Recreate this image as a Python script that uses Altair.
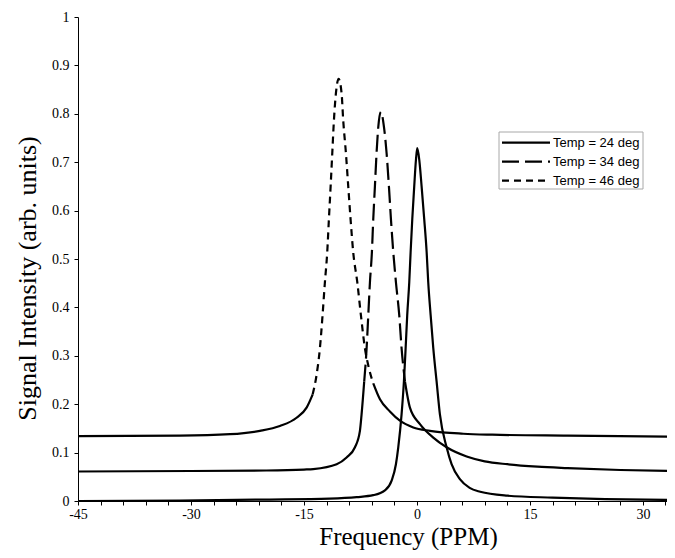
import altair as alt
import pandas as pd

# ---- data ----
series_names = ["Temp = 24 deg", "Temp = 34 deg", "Temp = 46 deg"]

x24 = [-45, -31.5, -20, -11.6, -8, -5.8, -4.25, -3.36, -2.79, -2.48, -2.04, -1.73, -1.50, -1.29,
       -1.02, -0.84, -0.62, -0.36, -0.13, 0.04, 0.31, 0.62, 0.97, 1.29, 1.50, 1.82, 2.17, 2.61,
       3.05, 3.94, 4.6, 5.7, 7.0, 8.4, 12, 18, 25, 34]
v24 = [0.0, 0.001, 0.003, 0.005, 0.008, 0.012, 0.022, 0.042, 0.076, 0.111, 0.179, 0.247, 0.316, 0.384,
       0.452, 0.514, 0.582, 0.650, 0.705, 0.729, 0.705, 0.650, 0.582, 0.514, 0.452, 0.384, 0.316, 0.247,
       0.179, 0.111, 0.076, 0.045, 0.027, 0.019, 0.011, 0.007, 0.004, 0.002]

x34 = [-45, -30, -20, -15, -13.77, -10.66, -9.34, -8.23, -7.57, -7.35, -7.0, -6.68, -6.46, -6.24,
       -5.98, -5.80, -5.58, -5.36, -5.13, -4.78, -4.38, -4.03, -3.72, -3.45, -3.14, -2.79, -2.35,
       -2.04, -1.59, -0.93, 0.40, 2.17, 3.94, 6.6, 9.0, 12, 16, 20, 27, 34]
v34 = [0.061, 0.062, 0.063, 0.065, 0.066, 0.076, 0.090, 0.111, 0.145, 0.179, 0.247, 0.316, 0.384, 0.452,
       0.514, 0.582, 0.650, 0.719, 0.773, 0.804, 0.773, 0.719, 0.650, 0.582, 0.514, 0.452, 0.384,
       0.316, 0.247, 0.193, 0.159, 0.131, 0.111, 0.092, 0.082, 0.076, 0.071, 0.068, 0.064, 0.062]

x46 = [-45, -31.5, -24.8, -20.85, -18.2, -15.98, -14.65, -13.85, -13.32, -12.88, -12.53, -12.22,
       -11.91, -11.69, -11.46, -11.24, -11.02, -10.76, -10.40, -10.0, -9.79, -9.43, -9.12, -8.81,
       -8.46, -7.92, -7.44, -6.91, -6.46, -5.80, -4.91, -3.59, -2.26, -0.49, 1.73, 6.15, 10, 20, 34]
v46 = [0.134, 0.135, 0.138, 0.145, 0.155, 0.172, 0.193, 0.220, 0.261, 0.316, 0.384, 0.452,
       0.514, 0.582, 0.650, 0.719, 0.787, 0.842, 0.872, 0.842, 0.787, 0.719, 0.650, 0.582,
       0.514, 0.452, 0.384, 0.316, 0.280, 0.243, 0.210, 0.185, 0.166, 0.152, 0.145, 0.139, 0.137, 0.135, 0.133]

x_ticks = list(range(-45, 34, 3))
y_ticks = [0, 0.1, 0.2, 0.3, 0.4, 0.5, 0.6, 0.7, 0.8, 0.9, 1.0]

# portion of each curve drawn with its dash pattern (the tails render solid)
dash_bounds = {"Temp = 34 deg": (-7.0, -1.59), "Temp = 46 deg": (-13.85, -5.80)}

rows = []
for name, xs, vs in zip(series_names, [x24, x34, x46], [v24, v34, v46]):
    b = dash_bounds.get(name)
    for x, v in zip(xs, vs):
        if b is None:
            rows.append({"series": name, "part": "L", "x": x, "v": v})
            continue
        lo, hi = b
        if x <= lo:
            rows.append({"series": name, "part": "L", "x": x, "v": v})
        if lo <= x <= hi:
            rows.append({"series": name, "part": "P", "x": x, "v": v})
        if x >= hi:
            rows.append({"series": name, "part": "R", "x": x, "v": v})
df = pd.DataFrame(rows)

SERIF = "Liberation Serif"

xscale = alt.Scale(domain=[-45, 33.2], nice=False, zero=False)
yscale = alt.Scale(domain=[0, 1], nice=False, zero=False)
dash_scale = alt.Scale(domain=series_names, range=[[1, 0], [17, 6], [7, 5]])

xaxis = alt.Axis(values=x_ticks, labelExpr="datum.value % 15 == 0 ? '' + datum.value : ''",
                 labelOverlap=False, labelFlush=False, tickSize=4, labelPadding=2,
                 labelFont=SERIF, labelFontSize=14, labelColor="black",
                 title="Frequency (PPM)", titleX=330, titleY=43, titleAlign="center",
                 titleBaseline="alphabetic", titleFont=SERIF, titleFontSize=25, titleFontWeight="normal")
yaxis = alt.Axis(values=y_ticks, labelExpr="'' + round(datum.value * 10) / 10",
                 labelFlush=False, labelOverlap=False, tickSize=4, labelPadding=5,
                 labelFont=SERIF, labelFontSize=14, labelColor="black",
                 title="Signal Intensity (arb. units)", titleAngle=270, titleX=-51, titleY=261,
                 titleAlign="center", titleBaseline="middle", titleFont=SERIF, titleFontSize=26,
                 titleFontWeight="normal")

tail = alt.Chart(df).transform_filter("datum.part != 'P'").mark_line(
    color="black", strokeWidth=2.2, interpolate="monotone", clip=True
).encode(
    x=alt.X("x:Q", scale=xscale, axis=xaxis),
    y=alt.Y("v:Q", scale=yscale, axis=yaxis),
    detail=["series:N", "part:N"],
)

peak = alt.Chart(df).transform_filter("datum.part == 'P'").mark_line(
    color="black", strokeWidth=2.2, interpolate="monotone", clip=True
).encode(
    x=alt.X("x:Q", scale=xscale, axis=xaxis),
    y=alt.Y("v:Q", scale=yscale, axis=yaxis),
    strokeDash=alt.StrokeDash("series:N", scale=dash_scale, legend=None),
)

main = alt.layer(tail, peak)

leg_df = pd.DataFrame({"series": series_names})
legy = alt.Y("series:N", scale=alt.Scale(type="point", domain=series_names, range=[125.7, 163.7], padding=0),
             axis=None)

box = alt.Chart(pd.DataFrame({"k": [0]})).mark_rect(fill="white", stroke="#a8a8a8", strokeWidth=1).encode(
    x=alt.value(421), x2=alt.value(565), y=alt.value(115), y2=alt.value(172)
)
leg_rule = alt.Chart(leg_df).mark_rule(color="black", strokeWidth=2.2).encode(
    x=alt.value(424), x2=alt.value(472), y=legy,
    strokeDash=alt.StrokeDash("series:N", scale=dash_scale, legend=None),
)
leg_text = alt.Chart(leg_df).mark_text(align="left", baseline="middle", font="Liberation Sans",
                                       fontSize=13, color="black").encode(
    x=alt.value(475), y=legy, text="series:N"
)
legend = alt.layer(box, leg_rule, leg_text)

chart = alt.layer(main, legend).resolve_scale(y="independent").properties(
    width=589, height=484,
    padding={"left": 70, "top": 9, "right": 0, "bottom": 49},
    autosize="none",
    background="white",
).configure_view(stroke=None).configure_axis(
    domainColor="black", tickColor="black", grid=False,
)

chart.save("out.html", embed_options={"renderer": "svg", "actions": False})
